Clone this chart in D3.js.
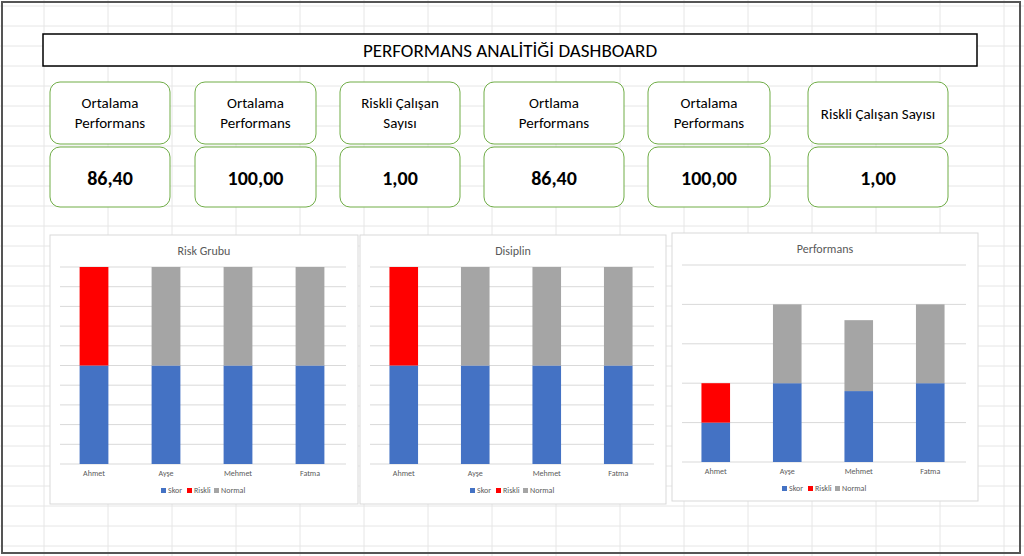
<!DOCTYPE html>
<html><head><meta charset="utf-8">
<script src="https://cdn.jsdelivr.net/npm/d3@7"></script>
<style>body{margin:0;background:#fff}svg{display:block;font-family:Calibri,Carlito,"Liberation Sans",sans-serif}</style>
</head><body>
<svg id="fig" width="1024" height="556"></svg>
<script>
var names = ["Ahmet","Ayşe","Mehmet","Fatma"];
var seriesKeys = ["Skor","Riskli","Normal"];
var riskSkor = [50,50,50,50], riskRiskli = [50,0,0,0], riskNormal = [0,50,50,50];
var disSkor = [50,50,50,50], disRiskli = [50,0,0,0], disNormal = [0,50,50,50];
var perfSkor = [20,40,36,40], perfRiskli = [20,0,0,0], perfNormal = [0,40,36,40];
var cardTitles = ["Ortalama\nPerformans","Ortalama\nPerformans","Riskli Çalışan\nSayısı","Ortlama\nPerformans","Ortalama\nPerformans","Riskli Çalışan Sayısı"];
var cardValues = ["86,40","100,00","1,00","86,40","100,00","1,00"];
var colors = {Skor:"#4472c4", Riskli:"#ff0000", Normal:"#a5a5a5"};

var svg = d3.select("#fig");
// excel grid
var g0 = svg.append("g").attr("stroke","#e6e6e6");
d3.range(0,1024,64).forEach(function(x){ g0.append("line").attr("x1",x+44).attr("x2",x+44).attr("y1",0).attr("y2",556); });
d3.range(0,556,20).forEach(function(y){ g0.append("line").attr("x1",0).attr("x2",1024).attr("y1",y+6).attr("y2",y+6); });
svg.append("rect").attr("x",2).attr("y",2).attr("width",1018).attr("height",551).attr("fill","none").attr("stroke","#555").attr("stroke-width",2);

svg.append("rect").attr("x",43).attr("y",34).attr("width",934).attr("height",32).attr("fill","#fff").attr("stroke","#000").attr("stroke-width",1.5);
svg.append("text").attr("x",510).attr("y",57).attr("text-anchor","middle").attr("font-size",19).text("PERFORMANS ANALİTİĞİ DASHBOARD");

var cardX = [50,195,340,484,648,808], cardW = [120,121,120,140,122,140];
cardTitles.forEach(function(t,i){
  var g = svg.append("g").attr("transform","translate("+cardX[i]+",0)");
  g.append("rect").attr("y",82).attr("width",cardW[i]).attr("height",62).attr("rx",10).attr("fill","#fff").attr("stroke","#70ad47");
  g.append("rect").attr("y",147).attr("width",cardW[i]).attr("height",60).attr("rx",10).attr("fill","#fff").attr("stroke","#70ad47");
  var lines = t.split("\n");
  lines.forEach(function(l,j){
    g.append("text").attr("x",cardW[i]/2).attr("y",(lines.length==1?119:108)+j*20).attr("text-anchor","middle").attr("font-size",15).text(l);
  });
  g.append("text").attr("x",cardW[i]/2).attr("y",185).attr("text-anchor","middle").attr("font-size",20).attr("font-weight","bold").text(cardValues[i]);
});

function chart(x0,y0,w,h,title,sk,ri,no,ticks){
  var g = svg.append("g").attr("transform","translate("+x0+","+y0+")");
  g.append("rect").attr("width",w).attr("height",h).attr("fill","#fff").attr("stroke","#d9d9d9");
  g.append("text").attr("x",w/2).attr("y",20).attr("text-anchor","middle").attr("font-size",12).attr("fill","#595959").text(title);
  var top = 32, bot = 229;
  var y = d3.scaleLinear().domain([0,100]).range([bot,top]);
  var x = d3.scaleBand().domain(names).range([8,w-12]).paddingInner(0.6).paddingOuter(0.3);
  y.ticks(ticks).forEach(function(t){
    g.append("line").attr("x1",10).attr("x2",w-12).attr("y1",y(t)).attr("y2",y(t)).attr("stroke","#d9d9d9");
  });
  var data = names.map(function(n,i){ return {name:n,Skor:sk[i],Riskli:ri[i],Normal:no[i]}; });
  var stack = d3.stack().keys(seriesKeys)(data);
  stack.forEach(function(s){
    g.selectAll(null).data(s).enter().append("rect")
      .attr("x",function(d){return x(d.data.name);}).attr("width",x.bandwidth())
      .attr("y",function(d){return y(d[1]);}).attr("height",function(d){return y(d[0])-y(d[1]);})
      .attr("fill",colors[s.key]);
  });
  names.forEach(function(n){
    g.append("text").attr("x",x(n)+x.bandwidth()/2).attr("y",bot+12).attr("text-anchor","middle").attr("font-size",8).attr("fill","#595959").text(n);
  });
  var lx = w/2-43;
  seriesKeys.forEach(function(k,i){
    var off = [0,26,53][i];
    g.append("rect").attr("x",lx+off).attr("y",bot+24).attr("width",5).attr("height",5).attr("fill",colors[k]);
    g.append("text").attr("x",lx+off+7).attr("y",bot+29).attr("font-size",8).attr("fill","#595959").text(k);
  });
}
chart(50,235,308,269,"Risk Grubu",riskSkor,riskRiskli,riskNormal,10);
chart(360,235,306,269,"Disiplin",disSkor,disRiskli,disNormal,10);
chart(672,233,306,268,"Performans",perfSkor,perfRiskli,perfNormal,5);
</script>
</body></html>
